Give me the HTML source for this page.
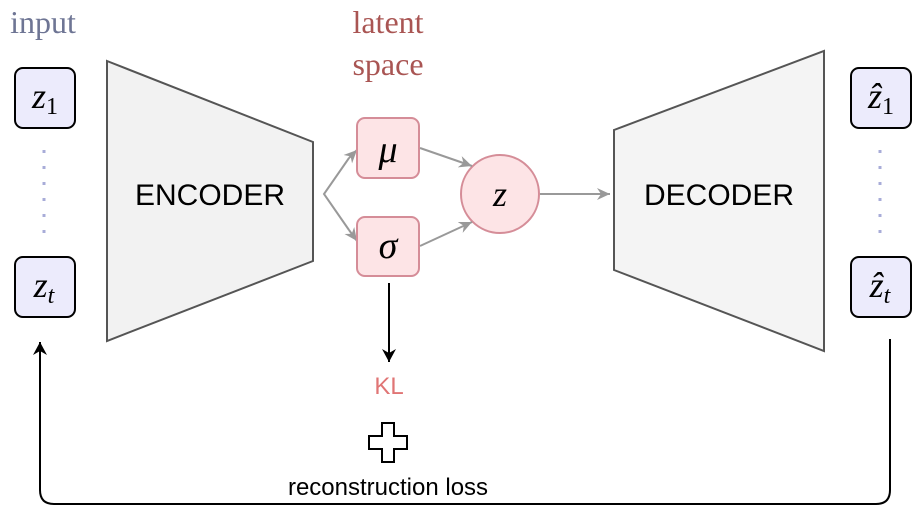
<!DOCTYPE html>
<html><head><style>
body{margin:0;background:#fff;}
svg text{font-family:"Liberation Sans",sans-serif;}
.m{font-family:"Liberation Serif",serif;font-style:italic;}
</style></head><body>
<svg width="914" height="522" viewBox="0 0 914 522" xmlns="http://www.w3.org/2000/svg">
<defs>
<marker id="ag" markerWidth="14" markerHeight="14" refX="13" refY="7" orient="auto" markerUnits="userSpaceOnUse"><path d="M0,1 L13,7 L0,13 L4,7z" fill="#999"/></marker>
<marker id="ab" markerWidth="14" markerHeight="16" refX="13" refY="8" orient="auto" markerUnits="userSpaceOnUse"><path d="M0,1 L13,8 L0,15 L4,8z" fill="#000"/></marker>
</defs>
<text x="43" y="33" font-size="32" fill="#6e7594" text-anchor="middle" style="font-family:'Liberation Serif',serif">input</text>
<text x="388" y="33" font-size="32" fill="#a95553" text-anchor="middle" style="font-family:'Liberation Serif',serif">latent</text>
<text x="388" y="75" font-size="32" fill="#a95553" text-anchor="middle" style="font-family:'Liberation Serif',serif">space</text>
<rect x="15" y="68" width="60" height="60" rx="8" fill="#ecebfc" stroke="#000" stroke-width="2"/>
<rect x="15" y="257" width="60" height="60" rx="8" fill="#ecebfc" stroke="#000" stroke-width="2"/>
<text x="45" y="108" class="m" font-size="36" text-anchor="middle">z<tspan font-size="24" font-style="normal" dy="6">1</tspan></text>
<text x="44" y="297" class="m" font-size="36" text-anchor="middle">z<tspan font-size="24" dy="6">t</tspan></text>
<rect x="851" y="68" width="60" height="60" rx="8" fill="#ecebfc" stroke="#000" stroke-width="2"/>
<rect x="851" y="257" width="60" height="60" rx="8" fill="#ecebfc" stroke="#000" stroke-width="2"/>
<text x="881" y="108" class="m" font-size="36" text-anchor="middle">ẑ<tspan font-size="24" font-style="normal" dy="6">1</tspan></text>
<text x="880" y="297" class="m" font-size="36" text-anchor="middle">ẑ<tspan font-size="24" dy="6">t</tspan></text>
<line x1="44" y1="150" x2="44" y2="234" stroke="#a8acd8" stroke-width="3" stroke-dasharray="3,13"/>
<line x1="880" y1="150" x2="880" y2="234" stroke="#a8acd8" stroke-width="3" stroke-dasharray="3,13"/>
<polygon points="107,61 313,142 313,261 107,341" fill="#f2f2f2" stroke="#555" stroke-width="2"/>
<text x="210" y="205" font-size="30" text-anchor="middle">ENCODER</text>
<polygon points="614,130 824,51 824,351 614,270" fill="#f4f4f4" stroke="#555" stroke-width="2"/>
<text x="719" y="205" font-size="30" text-anchor="middle">DECODER</text>
<path d="M349,158 L324,194 L349,230" fill="none" stroke="#999" stroke-width="2"/>
<path d="M349,158 L357,150" stroke="#999" stroke-width="2" marker-end="url(#ag)"/>
<path d="M349,230 L357,241" stroke="#999" stroke-width="2" marker-end="url(#ag)"/>
<rect x="357" y="118" width="62" height="60" rx="8" fill="#fde4e6" stroke="#d58d98" stroke-width="2"/>
<rect x="357" y="217" width="62" height="59" rx="8" fill="#fde4e6" stroke="#d58d98" stroke-width="2"/>
<text x="388" y="162" class="m" font-size="38" text-anchor="middle">μ</text>
<text x="388" y="258" class="m" font-size="38" text-anchor="middle">σ</text>
<circle cx="500" cy="194" r="39" fill="#fde4e6" stroke="#d58d98" stroke-width="2"/>
<text x="500" y="206" class="m" font-size="36" text-anchor="middle">z</text>
<line x1="420" y1="148" x2="472" y2="166" stroke="#999" stroke-width="2" marker-end="url(#ag)"/>
<line x1="420" y1="246" x2="472" y2="222" stroke="#999" stroke-width="2" marker-end="url(#ag)"/>
<line x1="540" y1="194" x2="610" y2="194" stroke="#999" stroke-width="2" marker-end="url(#ag)"/>
<line x1="389" y1="283" x2="389" y2="362" stroke="#000" stroke-width="2" marker-end="url(#ab)"/>
<text x="389" y="394" font-size="24" fill="#e07575" text-anchor="middle">KL</text>
<path d="M382,423 h12 v13 h13 v13 h-13 v13 h-12 v-13 h-13 v-13 h13z" fill="#fff" stroke="#000" stroke-width="2"/>
<text x="388" y="495" font-size="24" text-anchor="middle">reconstruction loss</text>
<path d="M890,339 V490 Q890,504 876,504 H54 Q40,504 40,490 V342" fill="none" stroke="#000" stroke-width="2" marker-end="url(#ab)"/>
</svg>
</body></html>
